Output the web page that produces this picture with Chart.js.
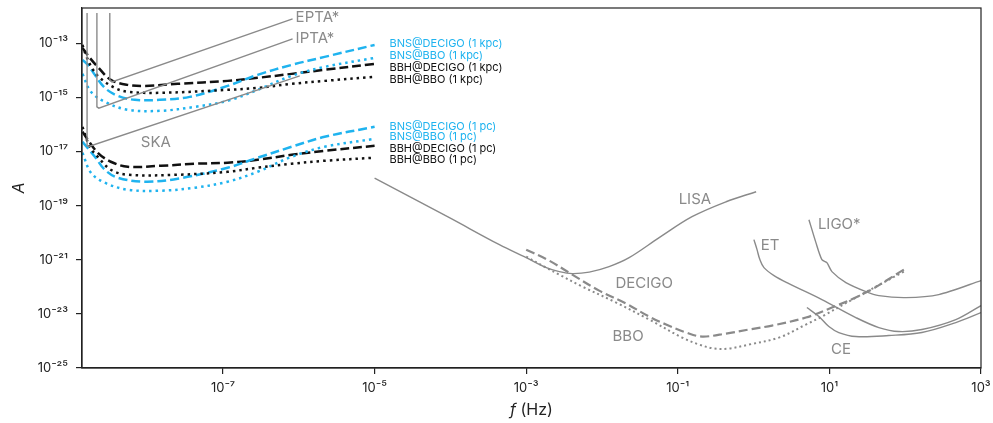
<!DOCTYPE html>
<html>
<head>
<meta charset="utf-8">
<script src="https://cdn.jsdelivr.net/npm/chart.js@4.4.0/dist/chart.umd.min.js"></script>
<style>
  html, body { margin: 0; padding: 0; background: #fff; }
  #wrap { width: 993px; height: 423px; }
</style>
</head>
<body>
<div id="wrap"><canvas id="gw"></canvas></div>
<script>
// frequency (Hz) and amplitude values

// pulsar timing arrays
const eptaF = [3.21e-9, 3.21e-9, 3.42e-9, 8.28e-7];
const eptaA = [1.31e-12, 4.43e-15, 3.73e-15, 7.89e-13];
const iptaF = [2.17e-9, 2.17e-9, 2.30e-9, 8.28e-7];
const iptaA = [1.31e-12, 4.46e-16, 3.99e-16, 1.44e-13];
const skaF = [1.61e-9, 1.61e-9, 1.70e-9, 1.03e-6];
const skaA = [1.31e-12, 1.62e-17, 1.53e-17, 6.21e-15];

// sources at 1 kpc
const bnsDecigoKpcF = [1.40e-9, 1.65e-9, 2.04e-9, 2.76e-9, 4.09e-9, 6.86e-9, 1.47e-8, 3.64e-8, 1.15e-7, 2.86e-7, 8.04e-7, 2.19e-6, 1e-5];
const bnsDecigoKpcA = [2.42e-14, 1.58e-14, 6.76e-15, 2.24e-15, 1.14e-15, 8.09e-16, 8.09e-16, 1.04e-15, 2.65e-15, 6.76e-15, 1.58e-14, 3.12e-14, 8.65e-14];
const bnsBboKpcF = [1.40e-9, 1.81e-9, 2.76e-9, 5.55e-9, 1.51e-8, 4.24e-8, 1.15e-7, 2.86e-7, 8.04e-7, 2.19e-6, 1e-5];
const bnsBboKpcA = [7.36e-15, 1.60e-15, 6.82e-16, 3.46e-16, 3.18e-16, 4.46e-16, 7.43e-16, 1.89e-15, 6.21e-15, 1.33e-14, 2.87e-14];
const bbhDecigoKpcF = [1.40e-9, 1.75e-9, 2.23e-9, 3.31e-9, 5.55e-9, 9.29e-9, 2.53e-8, 1.15e-7, 2.86e-7, 8.04e-7, 2.19e-6, 1e-5];
const bbhDecigoKpcA = [6.71e-14, 2.87e-14, 1.33e-14, 4.43e-15, 2.89e-15, 2.65e-15, 3.15e-15, 4.06e-15, 5.25e-15, 7.36e-15, 1.04e-14, 1.72e-14];
const bbhBboKpcF = [1.40e-9, 1.55e-9, 1.86e-9, 2.37e-9, 3.74e-9, 5.55e-9, 1.51e-8, 1.15e-7, 2.86e-7, 8.04e-7, 2.19e-6, 1e-5];
const bbhBboKpcA = [8.65e-14, 3.70e-14, 1.23e-14, 5.25e-15, 2.24e-15, 1.60e-15, 1.47e-15, 1.89e-15, 2.24e-15, 3.15e-15, 4.06e-15, 5.70e-15];

// sources at 1 pc
const bnsDecigoPcF = [1.40e-9, 2.04e-9, 2.76e-9, 4.09e-9, 9.29e-9, 2.53e-8, 1.15e-7, 2.86e-7, 8.04e-7, 2.19e-6, 1e-5];
const bnsDecigoPcA = [2.28e-17, 6.37e-18, 2.11e-18, 1.07e-18, 7.62e-19, 9.84e-19, 2.51e-18, 5.86e-18, 1.49e-17, 3.48e-17, 8.15e-17];
const bnsBboPcF = [1.40e-9, 1.81e-9, 2.76e-9, 5.55e-9, 1.51e-8, 4.24e-8, 1.15e-7, 2.86e-7, 8.04e-7, 2.19e-6, 1e-5];
const bnsBboPcA = [8.95e-18, 1.64e-18, 7.00e-19, 3.86e-19, 3.55e-19, 4.58e-19, 7.62e-19, 1.78e-18, 6.37e-18, 1.49e-17, 2.94e-17];
const bbhDecigoPcF = [1.40e-9, 1.65e-9, 2.23e-9, 3.31e-9, 5.55e-9, 1.51e-8, 4.24e-8, 1.15e-7, 2.86e-7, 8.04e-7, 2.19e-6, 1e-5];
const bbhDecigoPcA = [5.33e-17, 2.70e-17, 8.95e-18, 4.17e-18, 2.72e-18, 2.96e-18, 3.52e-18, 3.83e-18, 4.94e-18, 7.55e-18, 1.06e-17, 1.62e-17];
const bbhBboPcF = [1.40e-9, 1.75e-9, 2.23e-9, 3.31e-9, 5.55e-9, 2.53e-8, 1.15e-7, 2.86e-7, 8.04e-7, 2.19e-6, 1e-5];
const bbhBboPcA = [8.15e-17, 1.49e-17, 6.37e-18, 2.11e-18, 1.38e-18, 1.38e-18, 1.78e-18, 2.51e-18, 3.52e-18, 4.54e-18, 5.86e-18];

// detectors
const lisaF = [1e-5, 9.70e-5, 4.43e-4, 1.0e-3, 1.84e-3, 2.73e-3, 4.05e-3, 6.78e-3, 1.24e-2, 2.28e-2, 5.68e-2, 0.154, 0.434, 1.08];
const lisaA = [1.04e-18, 3.58e-20, 3.61e-21, 1.19e-21, 5.11e-22, 3.64e-22, 3.07e-22, 3.48e-22, 5.56e-22, 1.19e-21, 6.53e-21, 3.89e-20, 1.39e-19, 3.26e-19];
const decigoF = [1.0e-3, 2.01e-3, 4.05e-3, 9.18e-3, 2.08e-2, 4.19e-2, 7.01e-2, 0.129, 0.209, 0.434, 0.871, 1.75, 4.90, 10.8, 30.3, 95.9];
const decigoA = [2.36e-21, 9.26e-22, 2.82e-22, 7.24e-23, 2.40e-23, 7.94e-24, 4.03e-24, 2.04e-24, 1.45e-24, 1.87e-24, 2.64e-24, 3.70e-24, 7.30e-24, 1.71e-23, 6.11e-23, 4.31e-22];
const bboF = [1.0e-3, 1.73e-3, 2.73e-3, 5.48e-3, 1.54e-2, 4.19e-2, 0.114, 0.191, 0.301, 0.474, 0.871, 2.16, 4.90, 7.96, 22.3, 95.9];
const bboA = [1.30e-21, 5.56e-22, 2.82e-22, 1.02e-22, 2.61e-23, 6.17e-24, 1.33e-24, 7.36e-25, 5.25e-25, 5.25e-25, 7.36e-25, 1.33e-24, 4.03e-24, 7.94e-24, 3.99e-23, 3.64e-22];
const etF = [1.01, 1.11, 1.21, 1.37, 1.86, 2.92, 7.96, 22.3, 44.9, 82.4, 166, 465, 1000];
const etA = [5.52e-21, 2.36e-21, 1.01e-21, 5.11e-22, 2.59e-22, 1.31e-22, 3.37e-23, 7.30e-24, 3.12e-24, 2.22e-24, 2.64e-24, 6.17e-24, 2.02e-23];
const ceF = [5.05, 7.28, 9.84, 13.3, 22.3, 60.8, 166, 465, 1000];
const ceA = [1.71e-23, 7.94e-24, 3.40e-24, 2.04e-24, 1.45e-24, 1.58e-24, 2.04e-24, 4.77e-24, 1.12e-23];
const ligoF = [5.37, 6.64, 7.96, 9.27, 10.8, 16.5, 30.3, 44.9, 102, 277, 1000];
const ligoA = [3.02e-20, 4.28e-21, 1.01e-21, 7.82e-22, 3.64e-22, 1.43e-22, 6.65e-23, 4.73e-23, 3.99e-23, 5.15e-23, 1.69e-22];

// axis ticks
const xTicks = [1e-7, 1e-5, 1e-3, 1e-1, 1e1, 1e3];
const yTicks = [1e-25, 1e-23, 1e-21, 1e-19, 1e-17, 1e-15, 1e-13];

const BLUE = '#1fb3ef';
const BLACK = '#111111';
const GRAY = '#8a8a8a';

// text placed on the plot (anchor in data units)
const curveLabels = [
    { text: 'EPTA*', f: 9.08e-7, a: 8.59e-13, align: 'left', color: GRAY, size: 15 },
    { text: 'IPTA*', f: 9.08e-7, a: 1.44e-13, align: 'left', color: GRAY, size: 15 },
    { text: 'SKA', f: 1.30e-8, a: 2.09e-17, align: 'center', color: GRAY, size: 15 },
    { text: 'LISA', f: 0.168, a: 1.65e-19, align: 'center', color: GRAY, size: 15 },
    { text: 'DECIGO', f: 3.60e-2, a: 1.31e-22, align: 'center', color: GRAY, size: 15 },
    { text: 'BBO', f: 2.21e-2, a: 1.45e-24, align: 'center', color: GRAY, size: 15 },
    { text: 'ET', f: 1.24, a: 3.31e-21, align: 'left', color: GRAY, size: 15 },
    { text: 'LIGO*', f: 7.05, a: 1.97e-20, align: 'left', color: GRAY, size: 15 },
    { text: 'CE', f: 14.2, a: 4.82e-25, align: 'center', color: GRAY, size: 15 },
    { text: 'BNS@DECIGO (1 kpc)', f: 1.57e-5, a: 9.42e-14, align: 'left', color: BLUE, size: 11 },
    { text: 'BNS@BBO (1 kpc)', f: 1.57e-5, a: 3.40e-14, align: 'left', color: BLUE, size: 11 },
    { text: 'BBH@DECIGO (1 kpc)', f: 1.57e-5, a: 1.23e-14, align: 'left', color: BLACK, size: 11 },
    { text: 'BBH@BBO (1 kpc)', f: 1.57e-5, a: 4.43e-15, align: 'left', color: BLACK, size: 11 },
    { text: 'BNS@DECIGO (1 pc)', f: 1.57e-5, a: 8.15e-17, align: 'left', color: BLUE, size: 11 },
    { text: 'BNS@BBO (1 pc)', f: 1.57e-5, a: 3.48e-17, align: 'left', color: BLUE, size: 11 },
    { text: 'BBH@DECIGO (1 pc)', f: 1.57e-5, a: 1.26e-17, align: 'left', color: BLACK, size: 11 },
    { text: 'BBH@BBO (1 pc)', f: 1.57e-5, a: 4.94e-18, align: 'left', color: BLACK, size: 11 }
];

const FONT = 'Inter, "DejaVu Sans", sans-serif';
Chart.defaults.font.family = FONT;
Chart.defaults.color = '#222';

function pts(fs, as) {
    return fs.map((f, i) => ({ x: f, y: as[i] }));
}

function line(fs, as, color, width, dash, tension) {
    return {
        data: pts(fs, as),
        borderColor: color,
        borderWidth: width,
        borderDash: dash,
        borderCapStyle: 'butt',
        pointRadius: 0,
        showLine: true,
        fill: false,
        tension: tension
    };
}

const SUP = { '-': '\u207B', '0': '\u2070', '1': '\u00B9', '2': '\u00B2', '3': '\u00B3', '4': '\u2074',
    '5': '\u2075', '6': '\u2076', '7': '\u2077', '8': '\u2078', '9': '\u2079' };
function pow10Label(v) {
    const e = String(Math.round(Math.log10(v)));
    return '10' + e.split('').map(c => SUP[c]).join('');
}

const DASH = [9, 4];
const DOT = [2.5, 4];
const T = 0.35;

const datasets = [
    line(skaF, skaA, GRAY, 1.4, [], 0),
    line(iptaF, iptaA, GRAY, 1.4, [], 0),
    line(eptaF, eptaA, GRAY, 1.4, [], 0),
    line(lisaF, lisaA, GRAY, 1.4, [], T),
    line(etF, etA, GRAY, 1.4, [], T),
    line(ceF, ceA, GRAY, 1.4, [], T),
    line(ligoF, ligoA, GRAY, 1.4, [], 0.25),
    line(decigoF, decigoA, GRAY, 2.2, [9, 4], T),
    line(bboF, bboA, GRAY, 2, [2, 3], T),
    line(bbhBboKpcF, bbhBboKpcA, BLACK, 2.5, DOT, T),
    line(bnsBboKpcF, bnsBboKpcA, BLUE, 2.5, DOT, T),
    line(bnsDecigoKpcF, bnsDecigoKpcA, BLUE, 2.5, DASH, T),
    line(bbhDecigoKpcF, bbhDecigoKpcA, BLACK, 2.5, DASH, T),
    line(bbhBboPcF, bbhBboPcA, BLACK, 2.5, DOT, T),
    line(bnsBboPcF, bnsBboPcA, BLUE, 2.5, DOT, T),
    line(bnsDecigoPcF, bnsDecigoPcA, BLUE, 2.5, DASH, T),
    line(bbhDecigoPcF, bbhDecigoPcA, BLACK, 2.5, DASH, T)
];

const overlay = {
    id: 'overlay',
    afterDatasetsDraw(chart) {
        const { ctx, chartArea: ca, scales } = chart;
        ctx.save();
        ctx.strokeStyle = '#222';
        ctx.lineWidth = 1.2;
        ctx.strokeRect(ca.left, ca.top, ca.right - ca.left, ca.bottom - ca.top);
        ctx.textBaseline = 'middle';
        curveLabels.forEach(l => {
            ctx.font = l.size + 'px ' + FONT;
            ctx.fillStyle = l.color;
            ctx.textAlign = l.align;
            ctx.fillText(l.text, scales.x.getPixelForValue(l.f), scales.y.getPixelForValue(l.a));
        });
        // x axis title: italic f
        ctx.fillStyle = '#222';
        ctx.textAlign = 'left';
        ctx.font = 'italic 16px ' + FONT;
        const w1 = ctx.measureText('f').width;
        ctx.font = '16px ' + FONT;
        const w2 = ctx.measureText(' (Hz)').width;
        const x0 = (ca.left + ca.right) / 2 - (w1 + w2) / 2;
        ctx.font = 'italic 16px ' + FONT;
        ctx.fillText('f', x0, 410);
        ctx.font = '16px ' + FONT;
        ctx.fillText(' (Hz)', x0 + w1, 410);
        ctx.restore();
    }
};

new Chart(document.getElementById('gw'), {
    type: 'scatter',
    data: { datasets: datasets },
    options: {
        responsive: true,
        maintainAspectRatio: false,
        animation: false,
        devicePixelRatio: 1,
        layout: { padding: { top: 8, right: 12, left: 0, bottom: 0 } },
        plugins: { legend: { display: false }, tooltip: { enabled: false } },
        scales: {
            x: {
                type: 'logarithmic',
                min: 1.38e-9,
                max: 1e3,
                afterBuildTicks: s => { s.ticks = xTicks.map(v => ({ value: v })); },
                afterFit: s => { s.height = 55; s.paddingLeft = 0; s.paddingRight = 0; },
                ticks: { callback: v => pow10Label(v), font: { size: 13 }, color: '#222', padding: 6, maxRotation: 0 },
                grid: { drawOnChartArea: false, drawTicks: true, tickLength: 6, color: '#222', lineWidth: 1.2 },
                border: { color: '#222', width: 1.2 }
            },
            y: {
                type: 'logarithmic',
                min: 1e-25,
                max: 2e-12,
                afterBuildTicks: s => { s.ticks = yTicks.map(v => ({ value: v })); },
                afterFit: s => { s.width = 82; s.paddingTop = 0; s.paddingBottom = 0; },
                ticks: { callback: v => pow10Label(v), font: { size: 13 }, color: '#222', padding: 8 },
                grid: { drawOnChartArea: false, drawTicks: true, tickLength: 6, color: '#222', lineWidth: 1.2 },
                border: { color: '#222', width: 1.2 },
                title: { display: true, text: 'A', font: { size: 16, style: 'italic' }, color: '#222', padding: { top: 10, bottom: 0 } }
            }
        }
    },
    plugins: [overlay]
});
</script>
</body>
</html>
